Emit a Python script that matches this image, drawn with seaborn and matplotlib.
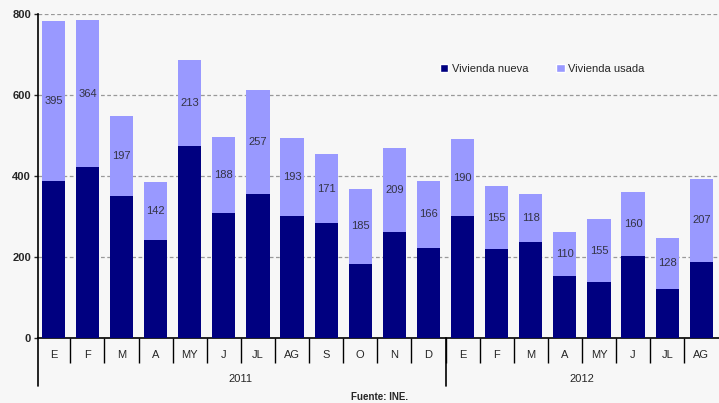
import matplotlib
matplotlib.use("Agg")
import matplotlib.pyplot as plt
from matplotlib.patches import Patch
from matplotlib.transforms import blended_transform_factory
import seaborn as sns
import pandas as pd

# datos (viviendas)
meses = ["E", "F", "M", "A", "MY", "J", "JL", "AG", "S", "O", "N", "D",
         "E", "F", "M", "A", "MY", "J", "JL", "AG"]
anios = ["2011"] * 12 + ["2012"] * 8
nueva = [387, 421, 350, 242, 473, 307, 355, 301, 282, 182, 260, 222,
         300, 219, 236, 152, 137, 201, 119, 186]
usada = [395, 364, 197, 142, 213, 188, 257, 193, 171, 185, 209, 166,
         190, 155, 118, 110, 155, 160, 128, 207]

col_nueva = "#000080"
col_usada = "#9999FF"
fondo = "#F7F7F7"

df = pd.DataFrame({"mes": meses, "anio": anios, "nueva": nueva, "usada": usada})
df["clave"] = df["mes"] + "-" + df["anio"]
df["total"] = df["nueva"] + df["usada"]

sns.set_style("white")
plt.rcParams["font.family"] = ["Liberation Sans", "DejaVu Sans"]

fig = plt.figure(figsize=(7.19, 4.03), dpi=100, facecolor=fondo)
ax = fig.add_axes([38 / 719, 1 - 337.5 / 403, 681 / 719, 323.5 / 403])
ax.set_facecolor(fondo)

orden = list(df["clave"])
sns.barplot(data=df, x="clave", y="total", order=orden, color=col_usada,
            width=0.68, saturation=1, ax=ax, zorder=2, edgecolor="none")
sns.barplot(data=df, x="clave", y="nueva", order=orden, color=col_nueva,
            width=0.68, saturation=1, ax=ax, zorder=3, edgecolor="none")

# etiquetas de vivienda usada (centro del tramo)
for i, row in df.iterrows():
    ax.text(i, row["nueva"] + row["usada"] / 2, str(row["usada"]),
            ha="center", va="center", fontsize=8, color="#333344", zorder=4)

ax.set_ylim(0, 800)
ax.set_xlim(-0.45, 19.52)
ax.set_yticks([0, 200, 400, 600, 800])
ax.set_yticklabels(["0", "200", "400", "600", "800"], fontsize=8, fontweight="bold")
ax.tick_params(axis="y", length=3, width=1, direction="out", left=True, pad=2)
ax.yaxis.grid(True, linestyle=(0, (3, 2)), color="#999999", linewidth=0.9, zorder=0)
ax.set_axisbelow(True)

for s in ["top", "right"]:
    ax.spines[s].set_visible(False)
ax.spines["left"].set_linewidth(1.2)
ax.spines["bottom"].set_linewidth(1.2)
ax.spines["left"].set_color("black")
ax.spines["bottom"].set_color("black")

# eje x: separadores entre meses y etiquetas
ax.set_xticks([i + 0.5 for i in range(19)])
ax.set_xticklabels([])
ax.tick_params(axis="x", length=18, width=1, direction="out", bottom=True, color="black")
ax.set_xlabel("")
ax.set_ylabel("")

tr = blended_transform_factory(ax.transData, ax.transAxes)
for i, m in enumerate(meses):
    ax.text(i, -0.055, m, transform=tr, ha="center", va="center", fontsize=8)

# lineas de grupo por año y textos de año
for x in [-0.45, 11.5]:
    ax.plot([x, x], [0, -0.15], transform=tr, color="black", lw=1.2, clip_on=False)
ax.text(5.5, -0.128, "2011", transform=tr, ha="center", va="center", fontsize=8)
ax.text(15.5, -0.128, "2012", transform=tr, ha="center", va="center", fontsize=8)

fig.text(380 / 719, 1 - 397 / 403, "Fuente: INE.", ha="center", va="center",
         fontsize=7, fontweight="bold")

handles = [Patch(facecolor=col_nueva, label="Vivienda nueva"),
           Patch(facecolor=col_usada, label="Vivienda usada")]
ax.legend(handles=handles, loc="center left", bbox_to_anchor=(0.575, 0.83),
          ncol=2, frameon=False, fontsize=8, handlelength=0.8, handleheight=0.8,
          handletextpad=0.3, columnspacing=2.5)

fig.savefig("out.png", dpi=100, facecolor=fondo)
